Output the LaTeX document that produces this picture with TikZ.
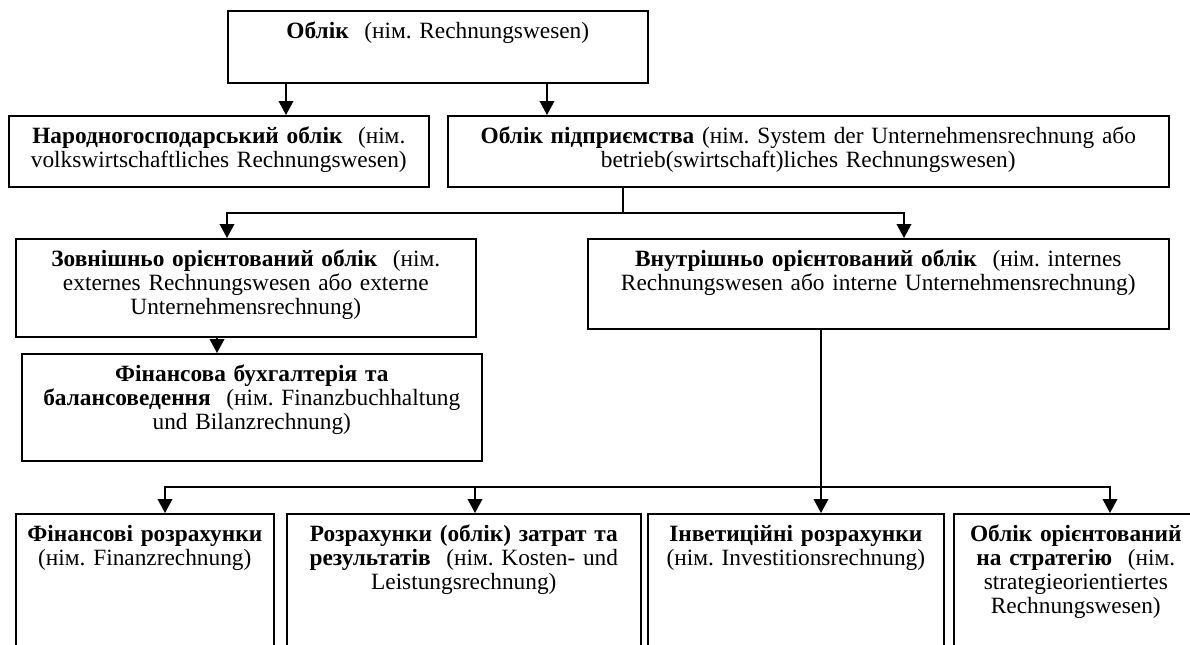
\documentclass[tikz,border=0pt]{standalone}
\usepackage{fontspec}
\setmainfont{Liberation Serif}
\usetikzlibrary{arrows.meta}
\frenchspacing

\begin{document}
\begin{tikzpicture}[x=0.75pt,y=-0.75pt,font=\fontsize{17.5}{18}\selectfont,
  box/.style={draw,line width=1.2pt,anchor=north west,align=center,inner xsep=3pt,inner ysep=0pt,text height=21pt},
  link/.style={line width=1.2pt},
  arr/.style={link,-{Triangle[width=11pt,length=10.5pt]}}]
  \useasboundingbox (0,0) rectangle (1190,644);
  \clip (0,0) rectangle (1190,644);
  \node[box,text width=309pt,text depth=33pt] (acc) at (227,10) {\textbf{Облік}\ \ (нім. Rechnungswesen)};
  \node[box,text width=309pt,text depth=32.25pt] (nat) at (8,115) {\textbf{Народногосподарський облік}\ \ (нім.\\ volkswirtschaftliches Rechnungswesen)};
  \node[box,text width=534.75pt,text depth=32.25pt] (ent) at (447,115) {\textbf{Облік підприємства} (нім. System der Unternehmensrechnung або\\ betrieb(swirtschaft)liches Rechnungswesen)};
  \node[box,text width=339pt,text depth=52.5pt] (ext) at (15,238) {\textbf{Зовнішньо орієнтований облік}\ \ (нім.\\ externes Rechnungswesen або externe\\ Unternehmensrechnung)};
  \node[box,text width=429.75pt,text depth=46.5pt] (int) at (587,238) {\textbf{Внутрішньо орієнтований облік}\ \ (нім. internes\\ Rechnungswesen або interne Unternehmensrechnung)};
  \node[box,text width=339pt,text depth=59.25pt] (fin) at (21,353) {\textbf{Фінансова бухгалтерія та}\\ \textbf{балансоведення}\ \ (нім. Finanzbuchhaltung\\ und Bilanzrechnung)};
  \node[box,text width=187.5pt,text depth=89.25pt] (fcalc) at (15,513) {\textbf{Фінансові розрахунки}\\ (нім. Finanzrechnung)};
  \node[box,text width=259.5pt,text depth=89.25pt] (cost) at (286,513) {\textbf{Розрахунки (облік) затрат та}\\ \textbf{результатів}\ \ (нім. Kosten- und\\ Leistungsrechnung)};
  \node[box,text width=216pt,text depth=89.25pt] (inv) at (647,513) {\textbf{Інветиційні розрахунки}\\ (нім. Investitionsrechnung)};
  \node[box,text width=177pt,text depth=89.25pt] (strat) at (953,513) {\textbf{Облік орієнтований}\\ \textbf{на стратегію}\ \ (нім.\\ strategieorientiertes\\ Rechnungswesen)};
  \coordinate (split1) at (623,213);
  \coordinate (split2) at (821,487);
  \draw[arr] (286,0 |- acc.south) -- (286,0 |- nat.north);
  \draw[arr] (547,0 |- acc.south) -- (547,0 |- ent.north);
  \draw[link] (split1 |- ent.south) -- (split1);
  \draw[arr] (split1) -| (227,0 |- ext.north);
  \draw[arr] (split1) -| (904,0 |- int.north);
  \draw[arr] (217,0 |- ext.south) -- (217,0 |- fin.north);
  \draw[link] (split2 |- int.south) -- (split2);
  \draw[arr] (split2) -| (165,0 |- fcalc.north);
  \draw[arr] (split2) -| (475,0 |- cost.north);
  \draw[arr] (split2) -- (split2 |- inv.north);
  \draw[arr] (split2) -| (1110,0 |- strat.north);
\end{tikzpicture}
\end{document}
